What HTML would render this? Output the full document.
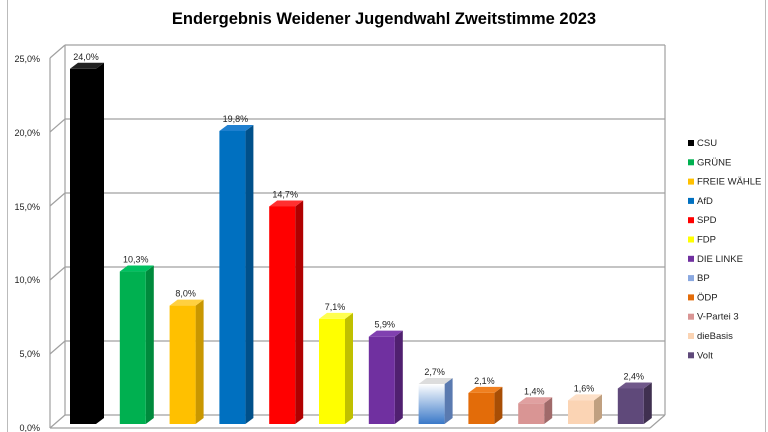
<!DOCTYPE html>
<html><head><meta charset="utf-8"><style>
body{margin:0;background:#fff;}
svg{display:block;font-family:"Liberation Sans",sans-serif;}
</style></head><body>
<svg width="768" height="432" viewBox="0 0 768 432">
<defs>
<linearGradient id="bp" x1="0" y1="0" x2="0" y2="1"><stop offset="0" stop-color="#fff"/><stop offset="1" stop-color="#3a78c8"/></linearGradient>
</defs>
<line x1="7.5" y1="0" x2="7.5" y2="432" stroke="#bbb"/>
<line x1="765.5" y1="0" x2="765.5" y2="432" stroke="#bbb"/>
<text x="384" y="24" text-anchor="middle" font-size="16.5" font-weight="bold" fill="#000">Endergebnis Weidener Jugendwahl Zweitstimme 2023</text>
<g stroke="#a0a0a0" stroke-width="1.2" fill="none">
<line x1="65" y1="45" x2="665" y2="45"/>
<line x1="65" y1="119" x2="665" y2="119"/>
<line x1="65" y1="193" x2="665" y2="193"/>
<line x1="65" y1="267" x2="665" y2="267"/>
<line x1="65" y1="341" x2="665" y2="341"/>
<line x1="65" y1="415" x2="665" y2="415"/>
<line x1="665" y1="45" x2="665" y2="415"/>
<line x1="65" y1="45" x2="65" y2="415"/>
<line x1="50" y1="58" x2="50" y2="428"/>
<line x1="50" y1="58" x2="65" y2="45"/><line x1="50" y1="132" x2="65" y2="119"/><line x1="50" y1="206" x2="65" y2="193"/><line x1="50" y1="280" x2="65" y2="267"/><line x1="50" y1="354" x2="65" y2="341"/><line x1="50" y1="428" x2="65" y2="415"/>
<line x1="650" y1="428" x2="665" y2="415"/>
<line x1="50" y1="428" x2="650" y2="428"/>
</g>
<g font-size="9" fill="#222" text-anchor="end">
<text x="40" y="62">25,0%</text><text x="40" y="136">20,0%</text><text x="40" y="210">15,0%</text><text x="40" y="283">10,0%</text><text x="40" y="357">5,0%</text><text x="40" y="431">0,0%</text>
</g>
<g id="bars" font-size="9" fill="#222" text-anchor="middle"></g>
<g id="leg" font-size="9.5" fill="#222"></g>
</svg>
<script>
var d=[["CSU",24.0,"#000","#000","#222"],["GRÜNE",10.3,"#00b050","#008a3c","#00c060"],["FREIE WÄHLE",8.0,"#ffc000","#c99700","#ffd040"],["AfD",19.8,"#0070c0","#00508a","#2080d0"],["SPD",14.7,"#ff0000","#b00000","#ff3030"],["FDP",7.1,"#ffff00","#c0c000","#ffff50"],["DIE LINKE",5.9,"#7030a0","#502070","#8040b0"],["BP",2.7,"url(#bp)","#5a7ab0","#ddd"],["ÖDP",2.1,"#e36c09","#a84e05","#f08020"],["V-Partei 3",1.4,"#d99594","#a06a6a","#e0a0a0"],["dieBasis",1.6,"#fbd4b4","#c0a080","#fde0c8"],["Volt",2.4,"#5f497a","#403050","#70588a"]];
var g=document.getElementById("bars"),L=document.getElementById("leg"),s="";
function p(pts,f){return '<polygon points="'+pts+'" fill="'+f+'"/>';}
d.forEach(function(e,i){var c=83+i*49.8,b=424,t=b-e[1]*14.8,x0=c-13,x1=c+13;
s+=p(x1+","+t+" "+(x1+8)+","+(t-6)+" "+(x1+8)+","+(b-6)+" "+x1+","+b,e[3]);
s+=p(x0+","+t+" "+(x0+8)+","+(t-6)+" "+(x1+8)+","+(t-6)+" "+x1+","+t,e[4]);
s+='<rect x="'+x0+'" y="'+t+'" width="26" height="'+(b-t)+'" fill="'+e[2]+'"/>';
s+='<text x="'+(c+3)+'" y="'+(t-9)+'">'+e[1].toFixed(1).replace(".",",")+'%</text>';});
g.innerHTML=s;s="";
d.forEach(function(e,i){var y=143+i*19.3;
s+='<rect x="688" y="'+(y-3)+'" width="6" height="6" fill="'+(i==7?"#8aa8e0":e[2])+'"/><text x="697" y="'+(y+3)+'">'+e[0]+'</text>';});
L.innerHTML=s;
</script>
</body></html>
